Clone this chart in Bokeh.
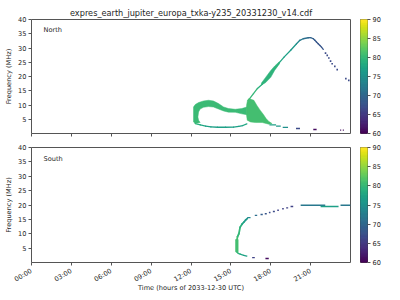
import math
import numpy as np
from bokeh.plotting import figure
from bokeh.models import ColumnDataSource, FixedTicker, Label, Range1d, CustomLabelingPolicy
from bokeh.layouts import gridplot
from bokeh.palettes import Viridis256
from bokeh.transform import linear_cmap
from bokeh.embed import file_html
from bokeh.resources import INLINE

# ---------------- text / ticks ----------------
TITLE = "expres_earth_jupiter_europa_txka-y235_20331230_v14.cdf"
X_TICKS = [0, 3, 6, 9, 12, 15, 18, 21]
X_TICK_LABELS = ["00:00", "03:00", "06:00", "09:00", "12:00", "15:00", "18:00", "21:00"]
Y_TICKS = [5, 10, 15, 20, 25, 30, 35, 40]
CB_TICKS = [60, 65, 70, 75, 80, 85, 90]
X_LABEL = "Time (hours of 2033-12-30 UTC)"
Y_LABEL = "Frequency (MHz)"
CB_LABEL = "θ (degrees)"
THETA_MIN, THETA_MAX = 60, 90

# ---------------- NORTH data (hours, MHz, degrees) ----------------
# loop band outline
north_loop_t = [12.19, 12.19, 12.32, 12.57, 12.94, 13.32, 13.69, 14.07, 14.45, 14.82, 15.33, 15.82, 16.2,
                16.2, 15.82, 15.33, 14.82, 14.45, 14.07, 13.69, 13.32, 12.94, 12.69, 12.57, 12.52, 12.57, 12.69, 12.32]
north_loop_f = [4.06, 9.31, 10.15, 10.85, 11.41, 11.66, 11.41, 10.5, 9.31, 8.75, 8.5, 8.75, 9.31,
                6.6, 6.9, 7.45, 7.5, 7.9, 8.6, 9.3, 9.45, 9.2, 8.6, 7.56, 5.8, 4.65, 3.85, 3.5]
north_loop_theta = 80.5
# blob outline
north_blob_t = [16.35, 16.73, 16.95, 17.2, 17.45, 17.65, 17.86, 18.1, 17.86, 17.36, 16.85, 16.48, 16.23, 16.18, 16.18, 16.25]
north_blob_f = [12.25, 11.66, 9.9, 8.2, 6.65, 5.25, 4.2, 3.5, 3.26, 3.85, 3.85, 4.06, 4.65, 6.4, 9.9, 11.66]
north_blob_theta = 81
# thick part of the rising branch
north_thick_t = [17.3, 17.6, 18.0, 18.3, 18.65, 18.65, 18.3, 18.0, 17.6, 17.3]
north_thick_f = [17.7, 19.6, 22.1, 23.7, 25.2, 24.4, 22.2, 19.7, 17.8, 17.0]
north_thick_theta = 79.5
# loop bottom line
north_bottom_t = [12.32, 12.7, 13.1, 13.5, 14.0, 14.6, 15.2, 15.6, 15.9, 16.2]
north_bottom_f = [3.5, 3.0, 2.6, 2.3, 2.2, 2.2, 2.25, 2.5, 2.8, 3.4]
north_bottom_theta = [79, 78, 77, 77, 77, 77, 77, 77, 78, 79]
# rising branch and arc
north_arc_t = [16.3, 16.7, 17.0, 17.36, 18.6, 19.0, 19.5, 19.94, 20.19, 20.44, 20.82, 21.0, 21.2, 21.32,
               21.44, 21.57, 21.7, 21.82, 21.95]
north_arc_f = [11.5, 14.0, 15.8, 17.3, 24.6, 26.8, 29.2, 31.5, 32.7, 33.25, 33.6, 33.65, 33.25, 32.7,
               32.1, 31.5, 30.9, 30.3, 29.5]
north_arc_theta = [80, 80, 79, 79, 78, 77, 76, 74, 72, 71, 70, 69.5, 69, 68.5, 68, 68, 68, 68, 68]
# sparse points of descending arc
north_dot_t = [22.12, 22.25, 22.37, 22.5, 22.62, 22.82, 23.0, 23.65, 23.87]
north_dot_f = [28.2, 27.4, 26.5, 25.4, 24.5, 23.55, 22.4, 19.25, 18.65]
north_dot_theta = [67, 67, 67, 67, 67, 67, 67, 67, 67]
# low-frequency dashes
north_dash_t0 = [17.9, 18.4, 18.9, 19.9, 21.2, 23.22, 23.42]
north_dash_t1 = [18.4, 18.75, 19.3, 20.2, 21.45, 23.3, 23.5]
north_dash_f = [3.0, 2.6, 2.15, 1.75, 1.4, 1.15, 1.15]
north_dash_theta = [77, 76, 75, 67, 61, 61, 61]

# ---------------- SOUTH data ----------------
south_band_t0 = [15.35]
south_band_t1 = [15.55]
south_band_f0 = [3.7]
south_band_f1 = [8.0]
south_band_theta = [81]
south_curve_t = [15.45, 15.45, 15.5, 15.6, 15.7, 15.85, 15.97, 16.1, 16.23]
south_curve_f = [3.7, 7.7, 9.0, 10.0, 12.3, 13.4, 14.0, 14.7, 15.3]
south_curve_theta = [81, 81, 80, 80, 79, 78, 77, 76, 75]
south_low_t = [15.45, 15.55, 15.7, 15.97, 16.2]
south_low_f = [3.7, 3.2, 2.9, 2.5, 2.2]
south_low_theta = [80, 79, 78, 77, 76]
south_dash_t0 = [16.6, 17.6, 16.23, 16.8, 17.23, 17.55, 17.86, 18.16, 18.49, 18.86, 19.16, 19.49, 20.25, 21.75, 23.25]
south_dash_t1 = [16.8, 17.85, 16.48, 16.98, 17.4, 17.7, 17.98, 18.31, 18.61, 18.98, 19.31, 19.69, 22.1, 23.1, 24.0]
south_dash_f = [1.7, 1.4, 15.6, 16.4, 16.7, 16.95, 17.4, 17.75, 18.2, 18.7, 19.0, 19.5, 19.9, 19.5, 19.9]
south_dash_theta = [66, 61, 74, 71, 69, 68, 67, 67, 66, 66, 66, 66, 72, 77, 72]

# ---------------- styling ----------------
FONT = "DejaVu Sans"
FS = "6.6px"
FRAME = "#555555"
TXT = "#262626"
CMAP = linear_cmap("theta", Viridis256, THETA_MIN, THETA_MAX)


def style_axes(p):
    p.xgrid.visible = False
    p.ygrid.visible = False
    p.outline_line_color = FRAME
    p.outline_line_width = 1
    p.background_fill_color = "white"
    p.border_fill_color = "white"
    for ax in p.axis:
        ax.axis_line_color = None
        ax.major_tick_in = 0
        ax.major_tick_out = 3
        ax.major_tick_line_color = FRAME
        ax.minor_tick_line_color = None
        ax.major_label_text_font = FONT
        ax.major_label_text_font_size = FS
        ax.major_label_text_color = TXT
        ax.major_label_standoff = 2
        ax.axis_label_text_font = FONT
        ax.axis_label_text_font_size = FS
        ax.axis_label_text_font_style = "normal"
        ax.axis_label_text_color = TXT


def make_main(height, top, bottom, last):
    p = figure(width=352, height=height, x_range=Range1d(0, 24), y_range=Range1d(0, 40),
               output_backend="svg", toolbar_location=None,
               min_border_left=31, min_border_right=2, min_border_top=top, min_border_bottom=bottom)
    style_axes(p)
    p.xaxis.ticker = FixedTicker(ticks=X_TICKS)
    p.xaxis.major_label_overrides = {t: s for t, s in zip(X_TICKS, X_TICK_LABELS)}
    p.yaxis.ticker = FixedTicker(ticks=Y_TICKS)
    p.yaxis.axis_label = Y_LABEL
    p.yaxis.axis_label_standoff = 2
    if last:
        p.xaxis.major_label_orientation = math.pi / 6
        p.xaxis.major_label_standoff = 5
        p.xaxis.axis_label = X_LABEL
        p.xaxis.axis_label_standoff = -6
    else:
        # shared time axis: ticks only, labels shown on the lower panel
        p.xaxis.major_label_policy = CustomLabelingPolicy(code="if (false) { yield 0 }")
        p.xaxis.major_label_standoff = 0
        p.xaxis.major_label_text_font_size = "1px"
    return p


def make_cbar(height, top, bottom):
    c = figure(width=48, height=height, x_range=Range1d(0, 1), y_range=Range1d(THETA_MIN, THETA_MAX),
               x_axis_location=None, y_axis_location="right",
               output_backend="svg", toolbar_location=None,
               min_border_left=8, min_border_right=33, min_border_top=top, min_border_bottom=bottom)
    style_axes(c)
    c.yaxis.ticker = FixedTicker(ticks=CB_TICKS)
    lv = np.linspace(THETA_MIN, THETA_MAX, len(Viridis256) + 1)
    c.quad(left=0, right=1, bottom=lv[:-1], top=lv[1:], color=list(Viridis256), line_width=0.6)
    fh = height - top - bottom
    c.add_layout(Label(x=25, y=fh / 2, x_units="screen", y_units="screen", text=CB_LABEL,
                       angle=math.pi / 2, text_align="center", text_baseline="middle",
                       text_font=FONT, text_font_size=FS, text_color=TXT))
    return c


def add_patch(p, t, f, theta):
    src = ColumnDataSource(dict(xs=[t], ys=[f], theta=[theta]))
    p.patches("xs", "ys", source=src, fill_color=CMAP, line_color=CMAP, line_width=0.5)


def add_polyline(p, t, f, theta, width):
    src = ColumnDataSource(dict(x0=t[:-1], y0=f[:-1], x1=t[1:], y1=f[1:], theta=theta[:-1]))
    p.segment("x0", "y0", "x1", "y1", source=src, line_color=CMAP, line_width=width, line_cap="round")


def add_dashes(p, t0, t1, f, theta, width):
    src = ColumnDataSource(dict(x0=t0, x1=t1, y=f, theta=theta))
    p.segment("x0", "y", "x1", "y", source=src, line_color=CMAP, line_width=width)


# ---------------- North ----------------
pn = make_main(140, 19, 7, False)
pn.title.text = TITLE
pn.title.align = "center"
pn.title.text_font = FONT
pn.title.text_font_size = "8.2px"
pn.title.text_font_style = "normal"
pn.title.text_color = TXT
pn.title.standoff = 4
add_polyline(pn, north_bottom_t, north_bottom_f, north_bottom_theta, 1.3)
add_polyline(pn, north_arc_t, north_arc_f, north_arc_theta, 1.3)
add_patch(pn, north_loop_t, north_loop_f, north_loop_theta)
add_patch(pn, north_blob_t, north_blob_f, north_blob_theta)
add_patch(pn, north_thick_t, north_thick_f, north_thick_theta)
pn.scatter(x="t", y="f", source=ColumnDataSource(dict(t=north_dot_t, f=north_dot_f, theta=north_dot_theta)),
           marker="square", size=1.6, fill_color=CMAP, line_color=None)
add_dashes(pn, north_dash_t0, north_dash_t1, north_dash_f, north_dash_theta, 1.3)
pn.add_layout(Label(x=12, y=104, x_units="screen", y_units="screen", text="North",
                    text_baseline="middle", text_font=FONT, text_font_size=FS, text_color=TXT))

# ---------------- South ----------------
ps = make_main(160, 7, 38, True)
ps.quad(left="t0", right="t1", bottom="f0", top="f1",
        source=ColumnDataSource(dict(t0=south_band_t0, t1=south_band_t1, f0=south_band_f0,
                                     f1=south_band_f1, theta=south_band_theta)),
        fill_color=CMAP, line_color=CMAP, line_width=0.5)
add_polyline(ps, south_curve_t, south_curve_f, south_curve_theta, 1.8)
add_polyline(ps, south_low_t, south_low_f, south_low_theta, 1.3)
add_dashes(ps, south_dash_t0, south_dash_t1, south_dash_f, south_dash_theta, 1.4)
ps.add_layout(Label(x=12, y=104, x_units="screen", y_units="screen", text="South",
                    text_baseline="middle", text_font=FONT, text_font_size=FS, text_color=TXT))

cn = make_cbar(140, 19, 7)
cs = make_cbar(160, 7, 38)

grid = gridplot([[pn, cn], [ps, cs]], toolbar_location=None)
open("out.html", "w").write(file_html(grid, INLINE))
